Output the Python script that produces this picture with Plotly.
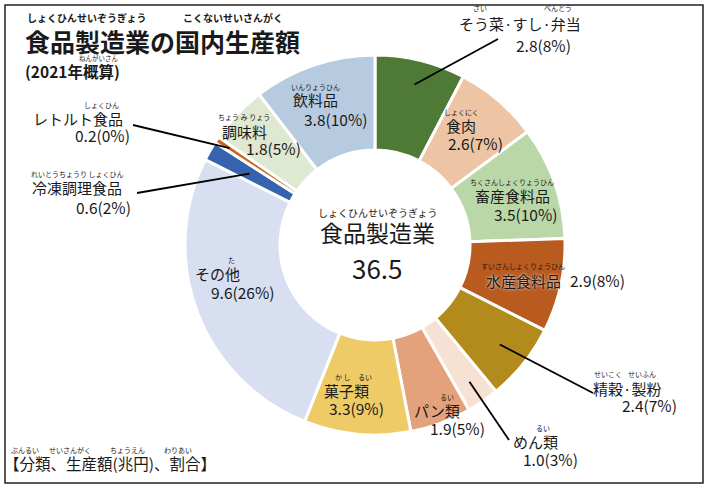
import math
import plotly.graph_objects as go

# 食品製造業の国内生産額（2021年概算）, 兆円
names = ["そう菜·すし·弁当", "食肉", "畜産食料品", "水産食料品", "精穀·製粉", "めん類",
         "パン類", "菓子類", "その他", "冷凍調理食品", "レトルト食品", "調味料", "飲料品"]
values = [2.8, 2.6, 3.5, 2.9, 2.4, 1.0, 1.9, 3.3, 9.6, 0.6, 0.2, 1.8, 3.8]
pcts = [8, 7, 10, 8, 7, 3, 5, 9, 26, 2, 0, 5, 10]
total = 36.5
colors = ["#4e7a36", "#edc4a4", "#bad7a8", "#b95a1f", "#b38b1d", "#f6e1d3",
          "#e4a27c", "#efcb68", "#d7dff0", "#3563ad", "#c9661e", "#dfe8d0", "#b7cbe0"]

W, H = 709, 487
CX, CY, R = 375, 245, 190
FONT = "Noto Sans CJK JP"
INK = "#1a1a1a"


def px(x):
    return x / W


def py(y):
    return 1 - y / H


def mid_point(i, frac):
    # middle of slice i, clockwise from 12 o'clock, at frac * radius
    before = sum(values[:i])
    ang = (before + values[i] / 2) / sum(values) * 2 * math.pi
    return CX + frac * R * math.sin(ang), CY - frac * R * math.cos(ang)


fig = go.Figure(go.Pie(
    labels=names, values=values, sort=False, direction="clockwise", rotation=0,
    hole=0.5, textinfo="none", hoverinfo="label+value",
    marker=dict(colors=colors, line=dict(color="white", width=3)),
    domain=dict(x=[px(CX - R), px(CX + R)], y=[py(CY + R), py(CY - R)]),
    showlegend=False,
))

annos = []


def txt(x, y, s, size=14, bold=False, anchor="center", shadow=None):
    f = dict(family=FONT, size=size, color=INK)
    if shadow:
        f["shadow"] = shadow
    annos.append(dict(x=px(x), y=py(y), xref="paper", yref="paper", text=("<b>%s</b>" % s) if bold else s,
                      showarrow=False, xanchor=anchor, yanchor="middle", font=f, borderpad=0))


def val(i):
    return "%.1f(%d%%)" % (values[i], pcts[i])


# label positions (name, value) in pixels
name_pos = [(520, 24), (461, 126), (512, 196), (523, 280), (627, 388), (535, 441),
            (437, 410), (346, 390), (217, 273), (77, 188), (78, 118), (244, 131), (315, 100)]
val_pos = [(543, 45), (476, 143), (525, 214), (597, 280), (649, 405), (550, 459),
           (457, 428), (356, 408), (242, 292), (103, 207), (102, 135), (273, 148), (335, 119)]

for i in range(len(names)):
    shadow = "0px 0px 3px white" if i == 3 else None
    txt(name_pos[i][0], name_pos[i][1], names[i], size=15, shadow=shadow)
    txt(val_pos[i][0], val_pos[i][1], val(i), size=15.5)

# furigana
rubies = [("さい", 480, 8), ("べんとう", 558, 8), ("しょくにく", 461, 112),
          ("ちくさんしょくりょうひん", 512, 182), ("すいさんしょくりょうひん", 523, 266),
          ("せいこく", 608, 374), ("せいふん", 642, 374), ("るい", 543, 428),
          ("るい", 447, 397), ("か し", 343, 377), ("るい", 365, 377), ("た", 231, 260),
          ("れいとうちょうり しょくひん", 77, 174), ("しょくひん", 101, 105),
          ("ちょう み りょう", 244, 117), ("いんりょうひん", 315, 87)]
for s, x, y in rubies:
    txt(x, y, s, size=7)

# leader lines: (slice, radius fraction, label end)
leaders = [(0, 0.87, (498, 39)), (4, 0.84, (593, 393)), (5, 0.875, (509, 440)),
           (9, 0.76, (137, 193)), (10, 0.92, (133, 125))]
shapes = []
for i, frac, (ex, ey) in leaders:
    tx, ty = mid_point(i, frac)
    shapes.append(dict(type="line", xref="paper", yref="paper", x0=px(tx), y0=py(ty),
                       x1=px(ex), y1=py(ey), line=dict(color="black", width=1.8)))

# frame
shapes.append(dict(type="rect", xref="paper", yref="paper", x0=px(5), y0=py(483), x1=px(703), y1=py(5),
                   line=dict(color="#222222", width=1.5)))

# title block
txt(24, 41, "食品製造業の国内生産額", size=25, bold=True, anchor="left")
txt(87, 18, "しょくひんせいぞうぎょう", size=10, bold=True)
txt(233, 18, "こくないせいさんがく", size=10, bold=True)
txt(24, 71, "(2021年概算)", size=15.5, bold=True, anchor="left")
txt(99, 58, "ねんがいさん", size=6.5)

# bottom note
txt(3, 463, "【分類、生産額(兆円)、割合】", size=15.5, anchor="left")
for s, x in [("ぶんるい", 25), ("せいさんがく", 70), ("ちょうえん", 127), ("わりあい", 178)]:
    txt(x, 450, s, size=7)

# center
txt(378, 212, "しょくひんせいぞうぎょう", size=10)
txt(378, 232, "食品製造業", size=23)
txt(378, 267, str(total), size=26)

fig.update_layout(width=W, height=H, margin=dict(l=0, r=0, t=0, b=0),
                  paper_bgcolor="white", plot_bgcolor="white",
                  annotations=annos, shapes=shapes)
fig.write_html("out.html", config={"displayModeBar": False},
               post_script="document.body.style.margin='0';")
